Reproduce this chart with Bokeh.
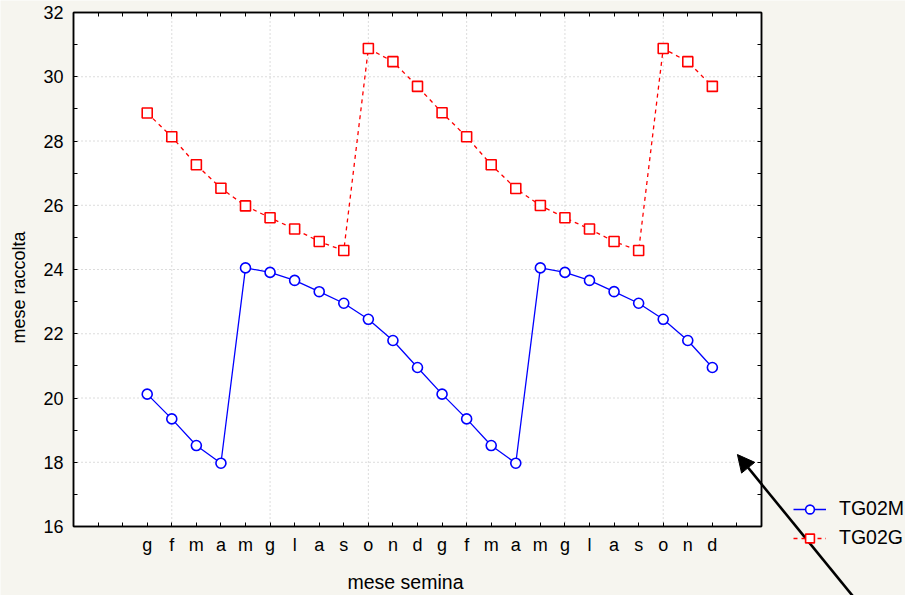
from math import pi
from bokeh.plotting import figure
from bokeh.models import (FixedTicker, LinearAxis, Legend, LegendItem, Arrow,
                          NormalHead, Range1d, Label)
from bokeh.embed import file_html
from bokeh.resources import INLINE

# ---- data -------------------------------------------------------------
months = ["g", "f", "m", "a", "m", "g", "l", "a", "s", "o", "n", "d",
          "g", "f", "m", "a", "m", "g", "l", "a", "s", "o", "n", "d"]
positions = list(range(3, 27))          # category slots on the x axis
tg02m = [20.12, 19.35, 18.52, 17.97, 24.05, 23.91, 23.66, 23.31, 22.95, 22.45, 21.79, 20.95,
         20.12, 19.35, 18.52, 17.97, 24.05, 23.91, 23.66, 23.31, 22.95, 22.45, 21.79, 20.95]
tg02g = [28.87, 28.13, 27.26, 26.53, 25.98, 25.61, 25.26, 24.87, 24.59, 30.88, 30.47, 29.70,
         28.88, 28.13, 27.26, 26.52, 25.99, 25.61, 25.26, 24.87, 24.59, 30.88, 30.47, 29.70]
y_ticks = [16, 18, 20, 22, 24, 26, 28, 30, 32]
y_minor = [17, 19, 21, 23, 25, 27, 29, 31]
y_grid = [18, 20, 22, 24, 26, 28, 30]
x_ticks = list(range(1, 28))
x_grid = [4, 8, 12, 16, 20, 24]
X_LO, X_HI = 0, 28          # axis limits of the plot box
Y_LO, Y_HI = 16, 32
x_title = "mese semina"
y_title = "mese raccolta"
arrow_start = (32.03, 13.54)
arrow_end = (27.02, 18.24)

FONT = "Liberation Sans"
BG = "#f6f5ef"

# The frame covers the whole canvas; the plot box [0,28]x[16,32] sits at
# pixels 73..761 x 12..526 so the arrow and legend can lie outside it.
W, H = 905, 595
BOX_L, BOX_R, BOX_T, BOX_B = 73, 761, 12, 526
sx = (BOX_R - BOX_L) / (X_HI - X_LO)
sy = (BOX_B - BOX_T) / (Y_HI - Y_LO)
x_range = Range1d(X_LO - BOX_L / sx, X_HI + (W - BOX_R) / sx)
y_range = Range1d(Y_LO - (H - BOX_B) / sy, Y_HI + BOX_T / sy)


def px_x(px):
    return X_LO + (px - BOX_L) / sx


def px_y(py):
    return Y_HI - (py - BOX_T) / sy


p = figure(width=W, height=H, x_range=x_range, y_range=y_range,
           output_backend="svg", toolbar_location=None,
           background_fill_color=BG, border_fill_color=BG,
           min_border_left=0, min_border_right=0, min_border_top=0,
           min_border_bottom=0, outline_line_color=None)
p.xgrid.visible = False
p.ygrid.visible = False

# ---- plot box and grid ------------------------------------------------
p.quad(left=[X_LO], right=[X_HI], bottom=[Y_LO], top=[Y_HI], fill_color="white",
       line_color="black", line_width=1.5)
p.segment(x0=x_grid, x1=x_grid, y0=[Y_LO] * len(x_grid), y1=[Y_HI] * len(x_grid),
          line_color="#b8b8b8", line_dash="1 3", line_width=1)
p.segment(x0=[X_LO] * len(y_grid), x1=[X_HI] * len(y_grid), y0=y_grid, y1=y_grid,
          line_color="#b8b8b8", line_dash="1 3", line_width=1)

# ---- series ----------------------------------------------------------
l2 = p.line(positions, tg02g, line_color="#ff0000", line_width=1.3, line_dash="4 4")
s2 = p.scatter(positions, tg02g, marker="square", size=10, fill_color="white",
               line_color="#ff0000", line_width=1.6)
l1 = p.line(positions, tg02m, line_color="#0000ff", line_width=1.3)
s1 = p.scatter(positions, tg02m, marker="circle", size=10, fill_color="white",
               line_color="#0000ff", line_width=1.6)

# ---- axes ------------------------------------------------------------
overrides = {t: "" for t in x_ticks}
for pos, m in zip(positions, months):
    overrides[pos] = m

xa = p.xaxis[0]
xa.ticker = FixedTicker(ticks=x_ticks)
xa.major_label_overrides = overrides
xa.fixed_location = Y_LO
xa.bounds = (X_LO, X_HI)
ya = p.yaxis[0]
ya.ticker = FixedTicker(ticks=y_ticks, minor_ticks=y_minor)
ya.fixed_location = X_LO
ya.bounds = (Y_LO, Y_HI)

for ax in (xa, ya):
    ax.major_tick_in = 4
    ax.major_tick_out = 0
    ax.minor_tick_in = 4
    ax.minor_tick_out = 0
    ax.axis_line_color = "black"
    ax.axis_line_width = 1.5
    ax.major_tick_line_color = "black"
    ax.minor_tick_line_color = "black"
    ax.major_label_text_font = FONT
    ax.major_label_text_font_size = "18px"
    ax.major_label_text_color = "black"
xa.major_label_standoff = 8
ya.major_label_standoff = 10

top = LinearAxis(ticker=FixedTicker(ticks=x_ticks), major_tick_in=4, major_tick_out=0,
                 minor_tick_line_color=None, major_label_overrides={t: "" for t in x_ticks},
                 major_label_standoff=0, axis_line_color="black", axis_line_width=1.5,
                 fixed_location=Y_HI, bounds=(X_LO, X_HI))
right = LinearAxis(ticker=FixedTicker(ticks=y_ticks, minor_ticks=y_minor),
                   major_tick_in=4, major_tick_out=0, minor_tick_in=4, minor_tick_out=0,
                   major_label_overrides={t: "" for t in y_ticks}, major_label_standoff=0,
                   axis_line_color="black", axis_line_width=1.5,
                   fixed_location=X_HI, bounds=(Y_LO, Y_HI))
p.add_layout(top, "above")
p.add_layout(right, "right")

# ---- axis titles -----------------------------------------------------
p.add_layout(Label(x=px_x(405), y=px_y(581), text=x_title, text_font=FONT,
                   text_font_size="19.5px", text_color="black",
                   text_align="center", text_baseline="alphabetic"))
p.add_layout(Label(x=px_x(18), y=px_y(287), text=y_title, text_font=FONT,
                   text_font_size="18px", text_color="black", angle=pi / 2,
                   text_align="center", text_baseline="alphabetic"))

# ---- legend ----------------------------------------------------------
legend = Legend(items=[LegendItem(label="TG02M", renderers=[l1, s1]),
                       LegendItem(label="TG02G", renderers=[l2, s2])],
                location=(793, 46), border_line_color=None,
                background_fill_alpha=0, label_text_font=FONT,
                label_text_font_size="19.5px", label_text_color="black",
                glyph_width=33, glyph_height=22, spacing=6, padding=0, margin=0,
                label_standoff=13)
p.add_layout(legend)

# ---- arrow -----------------------------------------------------------
p.add_layout(Arrow(end=NormalHead(size=17, fill_color="black", line_color="black"),
                   x_start=arrow_start[0], y_start=arrow_start[1],
                   x_end=arrow_end[0], y_end=arrow_end[1],
                   line_color="black", line_width=2.6))

open("out.html", "w").write(file_html(p, INLINE))
